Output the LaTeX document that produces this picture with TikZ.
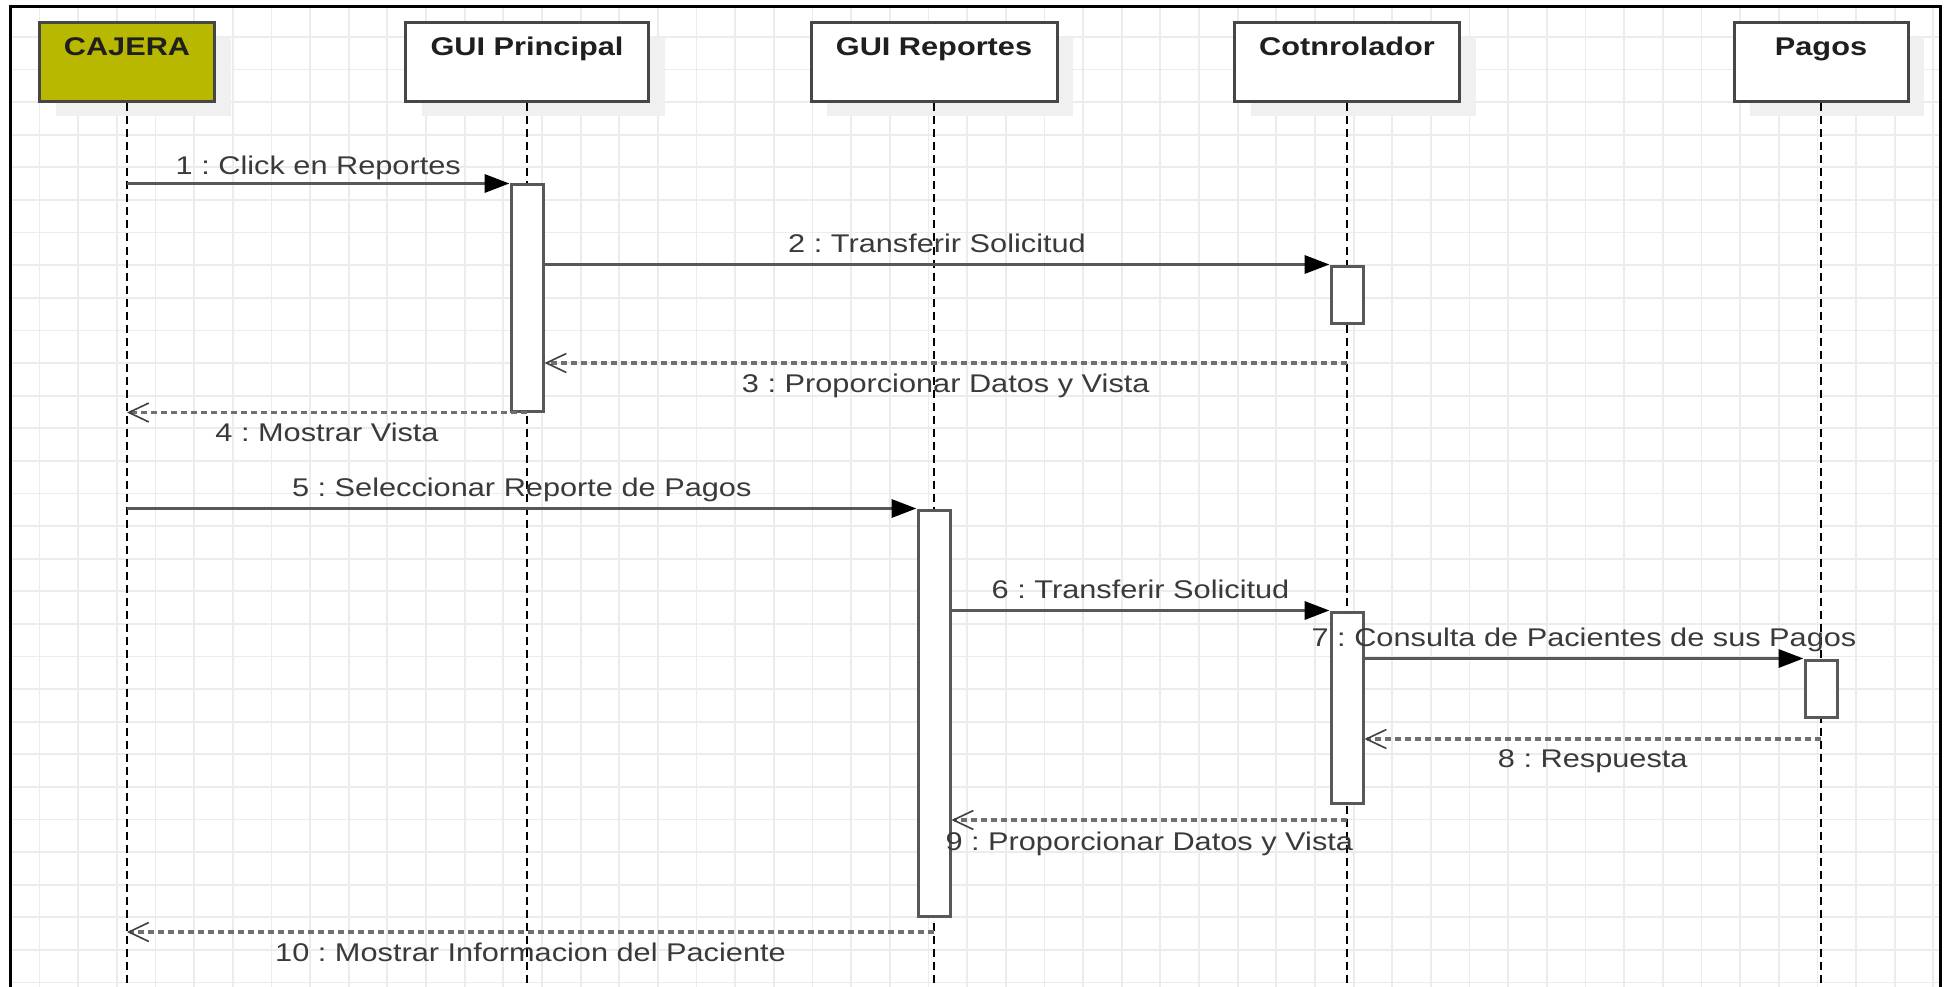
\documentclass[tikz,border=0pt]{standalone}
\usepackage{fontspec}
\setmainfont{Liberation Sans}[FakeStretch=1.2]
\usetikzlibrary{arrows.meta,shadows}
\frenchspacing

\definecolor{cajerafill}{RGB}{184,184,0}
\definecolor{gridc}{RGB}{236,236,236}
\definecolor{boxline}{RGB}{70,70,70}
\definecolor{msgline}{RGB}{88,88,88}
\definecolor{retline}{RGB}{112,112,112}
\definecolor{labeltext}{RGB}{58,58,58}

\tikzset{
  gridline/.style={draw=gridc, line width=1.8pt},
  part/.style={draw=boxline, line width=3pt, fill=white, minimum height=79pt, inner sep=0pt,
    drop shadow={shadow xshift=16pt, shadow yshift=-14pt, fill=black!6, opacity=1}},
  title/.style={font=\fontsize{25.6}{30}\selectfont\bfseries, text=black!88, anchor=base,
    inner sep=0pt, yshift=-34pt},
  life/.style={draw=black, line width=1.5pt, dash pattern=on 8pt off 5pt},
  actbox/.style={draw=msgline, line width=3pt, fill=white, minimum width=32pt, inner sep=0pt},
  call/.style={draw=msgline, line width=3.5pt, -{Triangle[length=25pt,width=18pt,color=black]}},
  ret/.style={draw=retline, line width=3.2pt, dash pattern=on 6pt off 4pt,
    -{Straight Barb[length=20pt,width=19pt,line width=1.6pt,color=black!75]}},
  msglabel/.style={text=labeltext, anchor=base, inner sep=0pt},
}

\begin{document}
\begin{tikzpicture}[x=1pt, y=-1pt, font=\fontsize{25.6}{30}\selectfont]
\useasboundingbox (0,0) rectangle (1946,987);
\fill[white] (0,0) rectangle (1946,987);

% background grid
\foreach \i in {0,...,49} {
  \draw[gridline] ({39.5+\i*38.65},7) -- ({39.5+\i*38.65},987);
}
\foreach \j in {0,...,29} {
  \draw[gridline] (10,{37+\j*32.6}) -- (1940,{37+\j*32.6});
}

% outer frame
\draw[black, line width=3pt] (10,987) -- (10,7) -- (1940,7) -- (1940,987);

% participants
\node[part, minimum width=175pt, fill=cajerafill, label={[title]north:CAJERA}] (caj) at (127,62.5) {};
\node[part, minimum width=243pt, label={[title]north:GUI Principal}] (gp) at (527,62.5) {};
\node[part, minimum width=246pt, label={[title]north:GUI Reportes}] (gr) at (934,62.5) {};
\node[part, minimum width=225pt, label={[title]north:Cotnrolador}] (ct) at (1347,62.5) {};
\node[part, minimum width=174pt, label={[title]north:Pagos}] (pg) at (1821,62.5) {};

% lifelines
\coordinate (bottom) at (0,987);
\foreach \p in {caj,gp,gr,ct,pg} {
  \draw[life] (\p.south) -- (\p.south |- bottom);
}

% activations
\node[actbox, minimum height=226pt] (a1) at (527,298) {};
\node[actbox, minimum height=57pt]  (a2) at (1347,294.5) {};
\node[actbox, minimum height=406pt] (a3) at (934,713) {};
\node[actbox, minimum height=191pt] (a4) at (1347,707.5) {};
\node[actbox, minimum height=57pt]  (a5) at (1821,688.5) {};

% levels of the return messages
\coordinate (y3) at (0,363);
\coordinate (y8) at (0,739);
\coordinate (y9) at (0,820);
\coordinate (y10) at (0,932);

% messages
\draw[call] (caj |- a1.north) -- (a1.north west)
  node[msglabel, midway, yshift=9pt] {1 : Click en Reportes};
\draw[call] (a1.east |- a2.north) -- (a2.north west)
  node[msglabel, midway, yshift=12pt] {2 : Transferir Solicitud};
\draw[ret] (ct |- y3) -- (a1.east |- y3)
  node[msglabel, midway, yshift=-29pt] {3 : Proporcionar Datos y Vista};
\draw[ret] (a1.south) -- (caj |- a1.south)
  node[msglabel, midway, yshift=-29pt] {4 : Mostrar Vista};
\draw[call] (caj |- a3.north) -- (a3.north west)
  node[msglabel, midway, yshift=12pt] {5 : Seleccionar Reporte de Pagos};
\draw[call] (a3.east |- a4.north) -- (a4.north west)
  node[msglabel, midway, yshift=12pt] {6 : Transferir Solicitud};
\draw[call] (a4.east |- a5.north) -- (a5.north west)
  node[msglabel, midway, yshift=12pt] {7 : Consulta de Pacientes de sus Pagos};
\draw[ret] (pg |- y8) -- (a4.east |- y8)
  node[msglabel, midway, yshift=-28pt] {8 : Respuesta};
\draw[ret] (ct |- y9) -- (a3.east |- y9)
  node[msglabel, midway, yshift=-30pt] {9 : Proporcionar Datos y Vista};
\draw[ret] (gr |- y10) -- (caj |- y10)
  node[msglabel, midway, yshift=-29pt] {10 : Mostrar Informacion del Paciente};
\end{tikzpicture}
\end{document}
